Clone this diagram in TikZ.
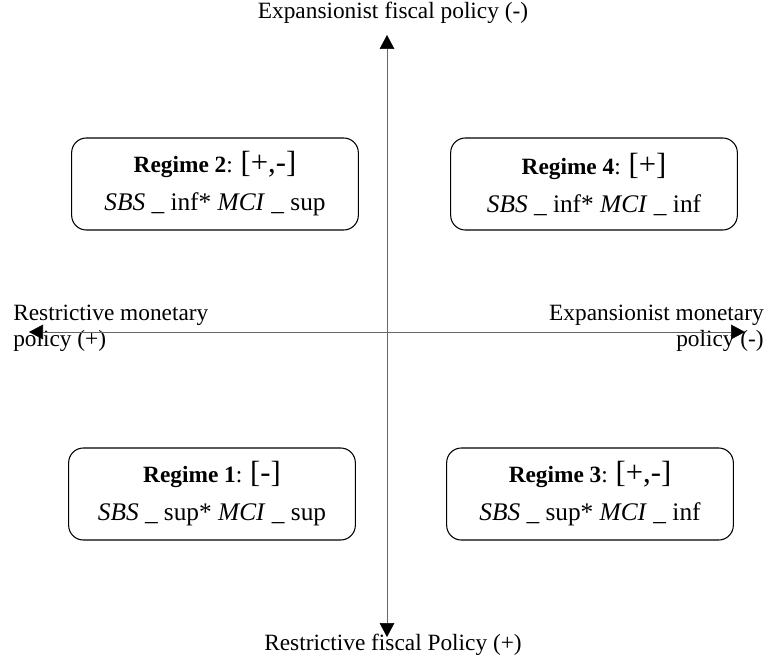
\documentclass[tikz,border=0pt]{standalone}
\usepackage{fontspec}
\setmainfont{Liberation Serif}
\usetikzlibrary{arrows.meta, positioning}

\newcommand{\brk}[1]{{\fontsize{23}{24}\selectfont #1}}
\newcommand{\rline}[1]{{\fontsize{19}{28.5}\selectfont #1}}

\begin{document}
\begin{tikzpicture}[x=0.75pt, y=-0.75pt, font=\fontsize{17.5}{19.5}\selectfont,
    >={Triangle[width=11pt, length=10.5pt, color=black]}]

    % Define styles
    \tikzset{regime/.style={rectangle, rounded corners=11pt, draw=black, thick,
        minimum width=215pt, minimum height=69pt, align=center, inner sep=2pt,
        font=\fontsize{17.5}{28.5}\selectfont}}
    \tikzset{axis/.style={->, draw=black!60, thin}}
    \tikzset{axislabel/.style={inner sep=0pt, align=center}}

    \useasboundingbox (0,0) rectangle (767,659);

    % Axis end points
    \coordinate (top) at (387,35);
    \coordinate (bottom) at (387,637);
    \coordinate (left) at (29,332);
    \coordinate (right) at (745,332);
    \coordinate (origin) at (387,332);

    % Axis labels
    \node (fiscalexp) [axislabel] at (393,13) {Expansionist fiscal policy (-)};
    \node (fiscalres) [axislabel] at (393,645) {Restrictive fiscal Policy (+)};
    \node (monres) [axislabel, align=left, anchor=west] at (13,328)
        {Restrictive monetary\\policy (+)};
    \node (monexp) [axislabel, align=right, anchor=east] at (764,328)
        {Expansionist monetary\\policy (-)};

    % Regimes
    \node (reg2) [regime] at (215,184)
        {\textbf{Regime 2}: \brk{[+,-]}\\\rline{\textit{SBS} \_ inf* \textit{MCI} \_ sup}};
    \node (reg4) [regime] at (594,184)
        {\textbf{Regime 4}: \brk{[+]}\\\rline{\textit{SBS} \_ inf* \textit{MCI} \_ inf}};
    \node (reg1) [regime] at (212,494)
        {\textbf{Regime 1}: \brk{[-]}\\\rline{\textit{SBS} \_ sup* \textit{MCI} \_ sup}};
    \node (reg3) [regime] at (590,494)
        {\textbf{Regime 3}: \brk{[+,-]}\\\rline{\textit{SBS} \_ sup* \textit{MCI} \_ inf}};

    % Axes
    \draw [axis] (origin) -- (top);
    \draw [axis] (origin) -- (bottom);
    \draw [axis] (origin) -- (left);
    \draw [axis] (origin) -- (right);

\end{tikzpicture}
\end{document}
